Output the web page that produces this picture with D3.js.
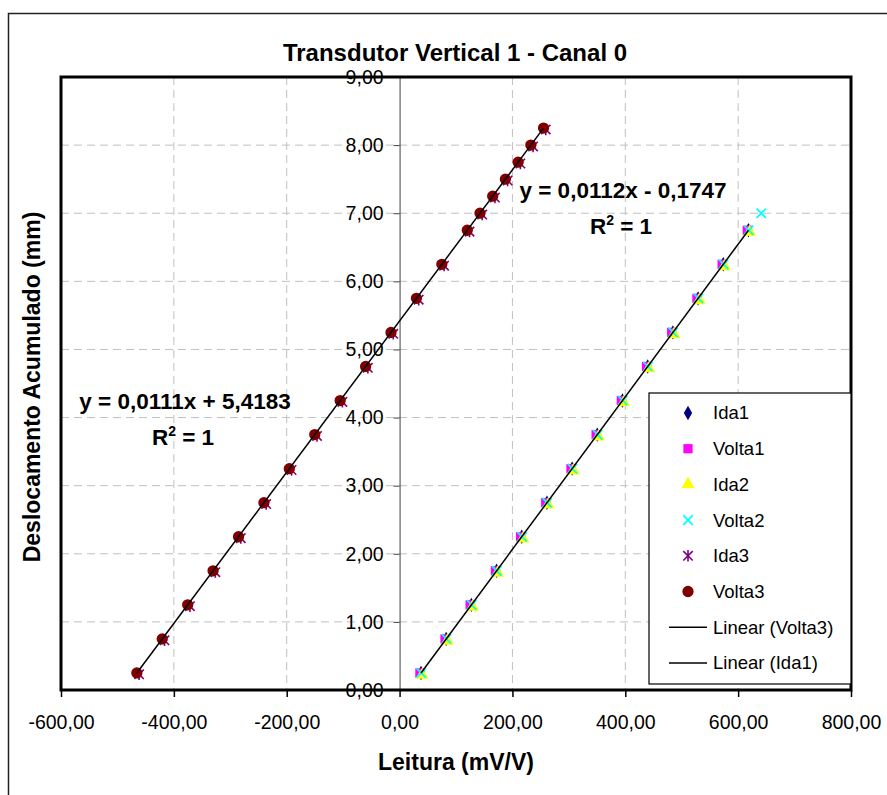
<!DOCTYPE html>
<html><head><meta charset="utf-8">
<script src="https://cdn.jsdelivr.net/npm/d3@7/dist/d3.min.js"></script>
<style>body{margin:0;background:#fff}svg{display:block}text{font-family:"Liberation Sans",Arial,sans-serif}</style>
</head><body><svg id="c" width="887" height="795"></svg>
<script>
// ---- data ----
const xTicks = [-600,-400,-200,0,200,400,600,800];
const yTicks = [0,1,2,3,4,5,6,7,8,9];
const rightY = [0.25,0.75,1.25,1.75,2.25,2.75,3.25,3.75,4.25,4.75,5.25,5.75,6.25,6.75];
const ida1X   = [38,82.6,127.2,171.9,216.5,261.2,305.8,350.4,395.1,439.7,484.4,529,573.7,618.3];
const volta1X = [36,80.5,125,169.8,214.4,259,303.7,348.3,393,437.6,482.2,527,571.6,616.2];
const ida2Y   = [0.22,0.72,1.22,1.72,2.22,2.72,3.22,3.72,4.22,4.72,5.22,5.72,6.22,6.72];
const ida2X   = [40,84.6,129.2,173.9,218.5,263.2,307.8,352.4,397.1,441.7,486.4,531,575.7,620.3];
const volta2Y = [0.25,0.75,1.25,1.75,2.25,2.75,3.25,3.75,4.25,4.75,5.25,5.75,6.25,6.75,7.0];
const volta2X = [38.5,83,127.6,172.3,217,261.6,306.2,350.9,395.5,440.1,484.8,529.5,574.1,618.7,641];
const leftY = [0.25,0.75,1.25,1.75,2.25,2.75,3.25,3.75,4.25,4.75,5.25,5.75,6.25,6.75,7.0,7.25,7.5,7.75,8.0,8.25];
const volta3X = [-465.6,-420.6,-375.5,-330.5,-285.4,-240.4,-195.4,-150.3,-105.3,-60.2,-15.2,29.9,74.9,120,142.5,165,187.5,210.1,232.6,255.1];
const ida3X   = [-461.6,-416.6,-371.5,-326.5,-281.4,-236.4,-191.4,-146.3,-101.3,-56.2,-11.2,33.9,78.9,124,146.5,169,191.5,214.1,236.6,259.1];
const ida3Y   = [0.23,0.73,1.23,1.73,2.23,2.73,3.23,3.73,4.23,4.73,5.23,5.73,6.23,6.73,6.98,7.23,7.48,7.73,7.98,8.23];
const legendLabels = ["Ida1","Volta1","Ida2","Volta2","Ida3","Volta3","Linear (Volta3)","Linear (Ida1)"];
const eqRight = ["y = 0,0112x - 0,1747","1"];
const eqLeft  = ["y = 0,0111x + 5,4183","1"];

const svg = d3.select("#c");
const x = d3.scaleLinear().domain([-600,800]).range([61,851]);
const y = d3.scaleLinear().domain([0,9]).range([690,77]);
const loc = d3.formatLocale({decimal:",",thousands:".",grouping:[3],currency:["",""],minus:"-"});
const fmt = loc.format(".2f");
const FF = "'Liberation Sans',Arial,sans-serif";

// outer chart border
svg.append("rect").attr("x",8.5).attr("y",13.5).attr("width",900).attr("height",800)
  .attr("fill","none").attr("stroke","#222").attr("stroke-width",1.5);

// title
svg.append("text").attr("x",455).attr("y",61).attr("text-anchor","middle")
  .attr("font-weight","bold").attr("font-size",24).text("Transdutor Vertical 1 - Canal 0");

// gridlines
const grid = svg.append("g").attr("stroke","#c0c0c0").attr("stroke-width",1).attr("stroke-dasharray","8,5");
xTicks.filter(t=>t>-600&&t<800&&t!==0).forEach(t=>{
  grid.append("line").attr("x1",x(t)).attr("x2",x(t)).attr("y1",y(9)).attr("y2",y(0));
});
yTicks.filter(t=>t>0&&t<9).forEach(t=>{
  grid.append("line").attr("x1",x(-600)).attr("x2",x(800)).attr("y1",y(t)).attr("y2",y(t));
});

// x axis
const gx = svg.append("g").attr("transform",`translate(0,${y(0)})`)
  .call(d3.axisBottom(x).tickValues(xTicks).tickFormat(fmt).tickSize(7).tickPadding(18));
gx.select(".domain").remove();
gx.selectAll("line").attr("stroke","#000").attr("stroke-width",1.5);
gx.selectAll("text").attr("font-size",19.5).attr("fill","#000").style("font-family",FF);

// y axis at x=0
const gy = svg.append("g").attr("transform",`translate(${x(0)},0)`)
  .call(d3.axisLeft(y).tickValues(yTicks).tickFormat(fmt).tickSize(6).tickPadding(10));
gy.select(".domain").attr("stroke","#404040").attr("stroke-width",1);
gy.selectAll("line").attr("stroke","#404040");
gy.selectAll("text").attr("font-size",19.5).attr("fill","#000").style("font-family",FF);

// marker symbols
const sym = {
  diamond: d3.symbol().type(d3.symbolDiamond).size(60),
  square: d3.symbol().type(d3.symbolSquare).size(85),
  triangle: d3.symbol().type(d3.symbolTriangle).size(75),
  circle: d3.symbol().type(d3.symbolCircle).size(100)
};
function drawMarker(g, kind, cx, cy){
  const t = `translate(${cx},${cy})`;
  if(kind==="ida1") g.append("path").attr("d",sym.diamond()).attr("transform",t).attr("fill","#000080");
  else if(kind==="volta1") g.append("path").attr("d",sym.square()).attr("transform",t).attr("fill","#ff00ff");
  else if(kind==="ida2") g.append("path").attr("d",sym.triangle()).attr("transform",t).attr("fill","#ffff00");
  else if(kind==="volta2"){
    const s=4.7;
    g.append("path").attr("d",`M${-s},${-s}L${s},${s}M${-s},${s}L${s},${-s}`).attr("transform",t)
      .attr("stroke","#00ffff").attr("stroke-width",1.8).attr("fill","none");
  } else if(kind==="ida3"){
    const s=4.7;
    g.append("path").attr("d",`M${-s},${-s}L${s},${s}M${-s},${s}L${s},${-s}M0,${-s-1}L0,${s+1}`).attr("transform",t)
      .attr("stroke","#800080").attr("stroke-width",1.6).attr("fill","none");
  } else if(kind==="volta3") g.append("path").attr("d",sym.circle()).attr("transform",t).attr("fill","#800000");
}
const series = [
  {k:"ida1", xs:ida1X, ys:rightY},
  {k:"volta1", xs:volta1X, ys:rightY},
  {k:"ida2", xs:ida2X, ys:ida2Y},
  {k:"volta2", xs:volta2X, ys:volta2Y},
  {k:"ida3", xs:ida3X, ys:ida3Y},
  {k:"volta3", xs:volta3X, ys:leftY}
];
const gm = svg.append("g");
series.forEach(s=>s.xs.forEach((v,i)=>drawMarker(gm,s.k,x(v),y(s.ys[i]))));

// trend lines (least squares from data)
function fit(xs,ys){
  const mx=d3.mean(xs), my=d3.mean(ys);
  const b=d3.sum(xs.map((v,i)=>(v-mx)*(ys[i]-my)))/d3.sum(xs.map(v=>(v-mx)*(v-mx)));
  return {b, a:my-b*mx, x0:d3.min(xs), x1:d3.max(xs)};
}
[fit(volta3X,leftY), fit(ida1X,rightY)].forEach(f=>{
  svg.append("line").attr("x1",x(f.x0)).attr("y1",y(f.a+f.b*f.x0))
    .attr("x2",x(f.x1)).attr("y2",y(f.a+f.b*f.x1)).attr("stroke","#000").attr("stroke-width",1.5);
});

// plot border
svg.append("rect").attr("x",x(-600)).attr("y",y(9)).attr("width",x(800)-x(-600)).attr("height",y(0)-y(9))
  .attr("fill","none").attr("stroke","#000").attr("stroke-width",3);

// equations
function eq(cx, cy, lines){
  svg.append("text").attr("x",cx).attr("y",cy).attr("text-anchor","middle").attr("font-weight","bold")
    .attr("font-size",22.5).text(lines[0]);
  const t = svg.append("text").attr("x",cx-2).attr("y",cy+36).attr("text-anchor","middle").attr("font-weight","bold").attr("font-size",22.5);
  t.append("tspan").text("R");
  t.append("tspan").attr("font-size",14).attr("dy",-9).text("2");
  t.append("tspan").attr("dy",9).text(" = "+lines[1]);
}
eq(623,198,eqRight);
eq(185,409,eqLeft);

// axis titles
svg.append("text").attr("x",456).attr("y",770).attr("text-anchor","middle").attr("font-weight","bold")
  .attr("font-size",23).text("Leitura (mV/V)");
svg.append("text").attr("transform","translate(40,387) rotate(-90)").attr("text-anchor","middle")
  .attr("font-weight","bold").attr("font-size",23).text("Deslocamento Acumulado (mm)");

// legend
const lg = svg.append("g");
lg.append("rect").attr("x",649).attr("y",393).attr("width",202).attr("height",291)
  .attr("fill","#fff").attr("stroke","#000").attr("stroke-width",1.2);
const kinds = ["ida1","volta1","ida2","volta2","ida3","volta3"];
legendLabels.forEach((lab,i)=>{
  const cy = 413 + i*35.7;
  if(i<6) drawMarker(lg,kinds[i],688,cy);
  else lg.append("line").attr("x1",669).attr("x2",707).attr("y1",cy).attr("y2",cy).attr("stroke","#000").attr("stroke-width",1.5);
  lg.append("text").attr("x",713).attr("y",cy).attr("dy","0.35em").attr("font-size",18.5).text(lab);
});
</script></body></html>
